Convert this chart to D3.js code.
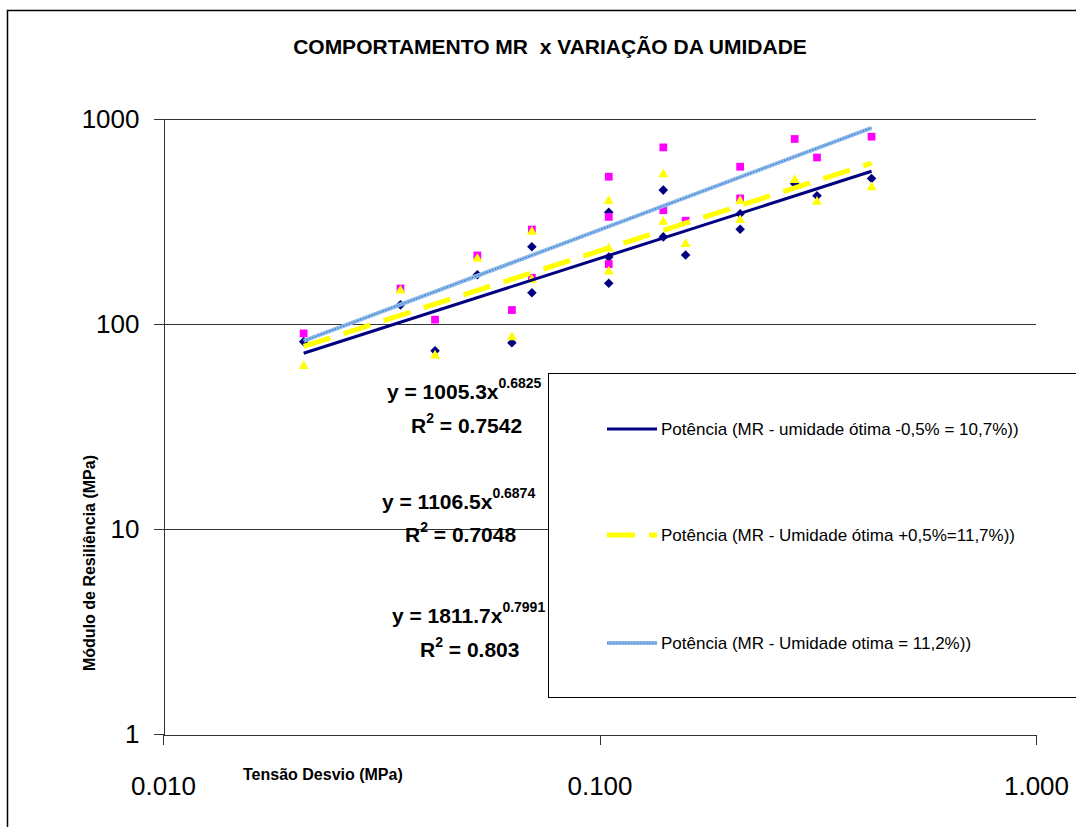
<!DOCTYPE html>
<html>
<head>
<meta charset="utf-8">
<script src="https://cdnjs.cloudflare.com/ajax/libs/d3/7.8.5/d3.min.js"></script>
<style>
body { margin: 0; background: #fff; }
text { font-family: "Liberation Sans", Arial, Helvetica, sans-serif; white-space: pre; }
</style>
</head>
<body>
<div id="chart"></div>
<script>

// tensao desvio (MPa) - same sequence for the three moisture contents
let tensao = [0.021, 0.042, 0.063, 0.035, 0.070, 0.105, 0.0525, 0.105, 0.1575,
              0.070, 0.140, 0.210, 0.105, 0.210, 0.315, 0.140, 0.280, 0.420];

// MR (MPa)
let mrMenos = [82, 74, 81, 124, 238, 351, 174, 212, 217, 142, 450, 290, 158, 345, 422, 266, 483, 513];
let mrMais  = [63, 71, 87, 147, 285, 402, 210, 236, 248, 166, 543, 402, 182, 325, 399, 319, 509, 469];
let mrOtima = [90, 105, 117, 149, 289, 523, 216, 333, 319, 168, 727, 585, 196, 410, 649, 359, 799, 820];

// power trendlines y = a x^b
let coefA = [1005.3, 1106.5, 1811.7];
let expoB = [0.6825, 0.6874, 0.7991];
let r2 = ["0.7542", "0.7048", "0.803"];

let legendas = [
    "Potência (MR - umidade ótima -0,5% = 10,7%))",
    "Potência (MR - Umidade ótima +0,5%=11,7%))",
    "Potência (MR - Umidade otima = 11,2%))"
];

let yTicks = [1, 10, 100, 1000];
let xTicks = [0.01, 0.1, 1];

let titulo = "COMPORTAMENTO MR  x VARIAÇÃO DA UMIDADE";
let tituloY = "Módulo de Resiliência (MPa)";
let tituloX = "Tensão Desvio (MPa)";

let svgWidth = 1076, svgHeight = 827;
let svg = d3.select("#chart").append("svg")
    .attr("width", svgWidth)
    .attr("height", svgHeight);

// outer chart border (right/bottom fall outside the picture)
svg.append("rect")
    .attr("x", 7.5).attr("y", 10.5)
    .attr("width", 1100).attr("height", 900)
    .attr("fill", "#fff")
    .attr("stroke", "#000")
    .attr("stroke-width", 1.5);

let x = d3.scaleLog().domain([0.01, 1]).range([163, 1036]);
let y = d3.scaleLog().domain([1, 1000]).range([734, 119]);

// gridlines
svg.selectAll(".grid")
    .data(yTicks.filter(function(d) { return d > 1; }))
    .enter()
    .append("line")
    .attr("class", "grid")
    .attr("x1", x(0.01)).attr("x2", x(1))
    .attr("y1", function(d) { return Math.round(y(d)) + 0.5; })
    .attr("y2", function(d) { return Math.round(y(d)) + 0.5; })
    .attr("stroke", "#333")
    .attr("stroke-width", 1);

// axes
let yAxis = svg.append("g")
    .attr("transform", "translate(163.5,0)")
    .call(d3.axisLeft(y).tickValues(yTicks).tickFormat(d3.format("d"))
        .tickSize(10).tickSizeOuter(0).tickPadding(14));

let xAxis = svg.append("g")
    .attr("transform", "translate(0,734.5)")
    .call(d3.axisBottom(x).tickValues(xTicks).tickFormat(d3.format(".3f"))
        .tickSize(10).tickSizeOuter(0).tickPadding(32));

[yAxis, xAxis].forEach(function(ax) {
    ax.selectAll("path, line").attr("stroke", "#333").attr("shape-rendering", "crispEdges");
    ax.selectAll("text")
        .attr("font-family", "'Liberation Sans', Arial, sans-serif")
        .attr("font-size", "26px")
        .attr("fill", "#000");
});

// markers
let diamond = d3.symbol().type(d3.symbolSquare).size(46);
let square = d3.symbol().type(d3.symbolSquare).size(60);
let triangle = d3.symbol().type(d3.symbolTriangle).size(44);

svg.selectAll(".ptMenos")
    .data(tensao)
    .enter()
    .append("path")
    .attr("class", "ptMenos")
    .attr("d", diamond)
    .attr("transform", function(d, i) { return "translate(" + x(d) + "," + y(mrMenos[i]) + ") rotate(45)"; })
    .attr("fill", "#000080");

svg.selectAll(".ptOtima")
    .data(tensao)
    .enter()
    .append("path")
    .attr("class", "ptOtima")
    .attr("d", square)
    .attr("transform", function(d, i) { return "translate(" + x(d) + "," + y(mrOtima[i]) + ")"; })
    .attr("fill", "#ff00ff");

svg.selectAll(".ptMais")
    .data(tensao)
    .enter()
    .append("path")
    .attr("class", "ptMais")
    .attr("d", triangle)
    .attr("transform", function(d, i) { return "translate(" + x(d) + "," + (y(mrMais[i]) + 1) + ")"; })
    .attr("fill", "#ffff00");

// trendlines over the range of the data
let xMin = d3.min(tensao), xMax = d3.max(tensao);
let linha = d3.line()
    .x(function(d) { return x(d[0]); })
    .y(function(d) { return y(d[1]); });

function trendPts(k) {
    return [xMin, xMax].map(function(t) { return [t, coefA[k] * Math.pow(t, expoB[k])]; });
}

let estilos = [
    [{ stroke: "#000080", width: 3, dash: null }],
    [{ stroke: "#ffff00", width: 5, dash: "28,14" }],
    [{ stroke: "#8cbbeb", width: 4, dash: null }, { stroke: "#3f78c4", width: 1.2, dash: "1.5,1.5" }]
];

estilos.forEach(function(camadas, k) {
    camadas.forEach(function(s) {
        svg.append("path")
            .datum(trendPts(k))
            .attr("d", linha)
            .attr("fill", "none")
            .attr("stroke", s.stroke)
            .attr("stroke-width", s.width)
            .attr("stroke-dasharray", s.dash);
    });
});

// equations
let eqPos = [
    { x: 387, y: 399, rx: 411, ry: 433 },
    { x: 382, y: 509, rx: 405, ry: 542 },
    { x: 392, y: 623, rx: 420, ry: 657 }
];

eqPos.forEach(function(p, k) {
    let eq = svg.append("text")
        .attr("x", p.x).attr("y", p.y)
        .attr("font-size", "21px")
        .attr("font-weight", "bold");
    eq.append("tspan").text("y = " + coefA[k] + "x");
    eq.append("tspan").attr("dy", -11).attr("font-size", "14px").text(expoB[k]);

    let rr = svg.append("text")
        .attr("x", p.rx).attr("y", p.ry)
        .attr("font-size", "21px")
        .attr("font-weight", "bold");
    rr.append("tspan").text("R");
    rr.append("tspan").attr("dy", -10).attr("font-size", "14px").text("2");
    rr.append("tspan").attr("dy", 10).text(" = " + r2[k]);
});

// legend box
svg.append("rect")
    .attr("x", 548.5).attr("y", 373.5)
    .attr("width", 600).attr("height", 324)
    .attr("fill", "#fff")
    .attr("stroke", "#000")
    .attr("stroke-width", 1);

let legY = [429, 535, 643];
legendas.forEach(function(txt, k) {
    estilos[k].forEach(function(s) {
        svg.append("line")
            .attr("x1", 607).attr("x2", 657)
            .attr("y1", legY[k]).attr("y2", legY[k])
            .attr("stroke", s.stroke)
            .attr("stroke-width", s.width)
            .attr("stroke-dasharray", s.dash);
    });
    svg.append("text")
        .attr("x", 661).attr("y", legY[k] + 6)
        .attr("font-size", "17px")
        .text(txt);
});

// titles
svg.append("text")
    .attr("x", 550).attr("y", 54)
    .attr("text-anchor", "middle")
    .attr("font-size", "21px")
    .attr("font-weight", "bold")
    .text(titulo);

svg.append("text")
    .attr("transform", "translate(95,563) rotate(-90)")
    .attr("text-anchor", "middle")
    .attr("font-size", "16px")
    .attr("font-weight", "bold")
    .text(tituloY);

svg.append("text")
    .attr("x", 243).attr("y", 780)
    .attr("font-size", "16px")
    .attr("font-weight", "bold")
    .text(tituloX);

</script>
</body>
</html>
